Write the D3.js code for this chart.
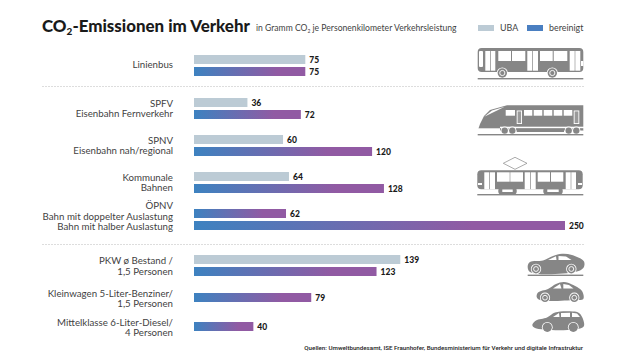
<!DOCTYPE html>
<html>
<head>
<meta charset="utf-8">
<script src="https://cdn.jsdelivr.net/npm/d3@7"></script>
<style>
  html, body { margin: 0; padding: 0; background: #fff; }
  svg { display: block; }
  text { font-family: "Lato", "Noto Sans", sans-serif; }
</style>
</head>
<body>
<svg id="chart" width="620" height="361"></svg>
<script>
// --- Data ---
const rowIds = ["bus", "spfv", "spnv", "kommunal", "opnv", "pkw", "klein", "mittel"];
const rowLabels = [
  ["Linienbus"],
  ["SPFV", "Eisenbahn Fernverkehr"],
  ["SPNV", "Eisenbahn nah/regional"],
  ["Kommunale", "Bahnen"],
  ["ÖPNV", "Bahn mit doppelter Auslastung", "Bahn mit halber Auslastung"],
  ["PKW ø Bestand /", "1,5 Personen"],
  ["Kleinwagen 5-Liter-Benziner/", "1,5 Personen"],
  ["Mittelklasse 6-Liter-Diesel/", "4 Personen"]
];
// first bar of each row, grey where the source is UBA
const firstValues = [75, 36, 60, 64, 62, 139, 79, 40];
const secondValues = [75, 72, 120, 128, 250, 123, null, null];
const firstIsUba = [true, true, true, true, false, true, false, false];
const legendLabels = ["UBA", "bereinigt"];

const W = 620, H = 361;
const svg = d3.select("#chart");

const BLUE = "#3d82c0", PURPLE = "#915aa3", UBA = "#bccbd5", TEXT = "#3f3f3f", ICON = "#868686";

// Scales
const x = d3.scaleLinear().domain([0, 250]).range([194, 565]);
const barH = 9;
const y = d3.scaleOrdinal()
  .domain(rowIds.flatMap(id => [id + "-0", id + "-1"]))
  .range([55, 67, 98, 110, 135, 147, 172, 184, 209, 221, 255, 267, 293, 305, 322, 334]);

const defs = svg.append("defs");
const grad = defs.append("linearGradient")
  .attr("id", "barGrad")
  .attr("x1", "0%").attr("x2", "100%");
grad.append("stop").attr("offset", "0%").attr("stop-color", BLUE);
grad.append("stop").attr("offset", "75%").attr("stop-color", PURPLE);
grad.append("stop").attr("offset", "100%").attr("stop-color", PURPLE);

// Title
const title = svg.append("text")
  .attr("x", 42).attr("y", 31.5)
  .attr("font-size", 16.9).attr("font-weight", 900).attr("fill", "#1a1a1a");
title.append("tspan").text("CO");
title.append("tspan").attr("font-size", 10).attr("dy", 3).text("2");
title.append("tspan").attr("dy", -3).text("-Emissionen im Verkehr");

const sub = svg.append("text")
  .attr("x", 256).attr("y", 31)
  .attr("font-size", 8.6).attr("fill", TEXT);
sub.append("tspan").text("in Gramm CO");
sub.append("tspan").attr("font-size", 5).attr("dy", 1.5).text("2");
sub.append("tspan").attr("dy", -1.5).text(" je Personenkilometer Verkehrsleistung");

// Legend
const legendX = [478, 527];
legendLabels.forEach((label, i) => {
  svg.append("rect")
    .attr("x", legendX[i]).attr("y", 25).attr("width", 16).attr("height", 6)
    .attr("fill", i === 0 ? UBA : "#4a7fc1");
  svg.append("text")
    .attr("x", legendX[i] + 22).attr("y", 31.3)
    .attr("font-size", 8.9).attr("fill", TEXT).text(label);
});

// Separators
[86.5, 244.5].forEach(yy => {
  svg.append("line")
    .attr("x1", 42).attr("x2", 584).attr("y1", yy).attr("y2", yy)
    .attr("stroke", "#dddddd").attr("stroke-dasharray", "2 1");
});

// Row labels
const labelCenters = [64, 108.5, 145.5, 182.5, 216, 266, 298.5, 327.5];
rowLabels.forEach((lines, i) => {
  const lh = 10.8;
  const top = labelCenters[i] - (lines.length - 1) * lh / 2;
  svg.append("g").selectAll("text")
    .data(lines)
    .enter()
    .append("text")
    .attr("x", 173)
    .attr("y", (d, j) => top + j * lh + 3.5)
    .attr("text-anchor", "end")
    .attr("font-size", 9.7)
    .attr("fill", TEXT)
    .text(d => d);
});

// Bars
const bars = [];
rowIds.forEach((id, i) => {
  bars.push({ key: id + "-0", value: firstValues[i], uba: firstIsUba[i] });
  if (secondValues[i] !== null) bars.push({ key: id + "-1", value: secondValues[i], uba: false });
});

svg.append("g").selectAll("rect")
  .data(bars)
  .enter()
  .append("rect")
  .attr("x", x(0))
  .attr("y", d => y(d.key))
  .attr("width", d => x(d.value) - x(0))
  .attr("height", barH)
  .attr("fill", d => d.uba ? UBA : "url(#barGrad)");

svg.append("g").selectAll("text")
  .data(bars)
  .enter()
  .append("text")
  .attr("x", d => x(d.value) + 4)
  .attr("y", d => y(d.key) + barH - 1)
  .attr("font-size", 8.5)
  .attr("font-weight", 900)
  .attr("fill", "#1a1a1a")
  .text(d => d.value);

// --- Icons ---
const icons = svg.append("g");

function box(x0, x1, y0, y1, fill, rx) {
  icons.append("rect")
    .attr("x", x0).attr("y", y0)
    .attr("width", x1 - x0).attr("height", y1 - y0)
    .attr("rx", rx || 0)
    .attr("fill", fill);
}
function ground(yy, x0) {
  box(x0, 583.3, yy - 0.7, yy + 0.7, ICON);
}
function wheel(cx, cy, r, ring) {
  icons.append("circle").attr("cx", cx).attr("cy", cy).attr("r", r + 0.8).attr("fill", "#fff");
  icons.append("circle").attr("cx", cx).attr("cy", cy).attr("r", r).attr("fill", ICON);
  if (ring) {
    icons.append("circle").attr("cx", cx).attr("cy", cy).attr("r", r * 0.55)
      .attr("fill", ICON).attr("stroke", "#fff").attr("stroke-width", 0.9);
  }
}
const straight = d3.line().curve(d3.curveLinearClosed);
const smooth = d3.line().curve(d3.curveCatmullRomClosed.alpha(0.5));
function shape(points, fill, gen) {
  icons.append("path").attr("d", (gen || straight)(points)).attr("fill", fill);
}

// Bus
box(477.7, 583.3, 48, 72, ICON, 4);
[[485.3, 490], [490.7, 495.3], [527.3, 532.3], [533, 538], [569.7, 574.7], [575.3, 580.3]]
  .forEach(d => box(d[0], d[1], 51, 70.7, "#fff"));
[[498.3, 511], [512, 525.3], [540, 552.7], [553.7, 567.3]]
  .forEach(d => box(d[0], d[1], 51, 61, "#fff"));
box(479, 483, 51, 67, "#fff", 1);
box(581, 583.3, 61, 66, "#fff");
wheel(502.3, 73, 4.7, true);
wheel(552.3, 73, 4.7, true);
ground(78.7, 477.7);

// Regional train
shape([[583.3, 105.3], [507, 105.3], [490, 110], [484, 116], [480, 124], [477.7, 130.7], [583.3, 130.7], [583.3, 126.5]], ICON);
box(500, 584, 126.7, 128.2, "#fff");
box(477, 500, 128.3, 132, "#fff");
shape([[484.3, 116.7], [492, 110.5], [504.7, 106.7], [494, 112]], "#fff");
box(505.7, 515, 110, 115.7, "#fff");
[[524, 532.3], [533.7, 542.3], [543.7, 552.3], [553.7, 562.3], [563.7, 572.3]]
  .forEach(d => box(d[0], d[1], 110, 115.7, "#fff"));
[[516.7, 522], [573.7, 579.3]].forEach(d => {
  box(d[0], d[1], 110.5, 124, "#fff");
  box(d[0] + 0.9, d[1] - 0.9, 111.4, 123.1, "#9a9a9a");
});
box(478, 583.3, 130.7, 132.6, "#fff");
box(516.7, 564, 128.8, 132, ICON);
[504.7, 512.3, 568.7, 576.3].forEach(cx => wheel(cx, 130.6, 3.2));
ground(134.7, 477.7);

// Tram
icons.append("path")
  .attr("d", straight([[503.3, 163.3], [515, 157.3], [527, 163.3], [515, 169.3]]))
  .attr("fill", "none").attr("stroke", ICON).attr("stroke-width", 0.7);
box(477.3, 582.7, 170.3, 189.3, ICON, 4);
[[484.3, 489.3], [490, 495], [524.7, 530], [530.7, 535.7], [565.7, 570.7], [571.3, 576]]
  .forEach(d => box(d[0], d[1], 172.3, 189.3, "#fff"));
[[497, 509.7], [510.3, 523], [537.7, 550], [551, 563.3]]
  .forEach(d => box(d[0], d[1], 172.3, 181.7, "#fff"));
box(478, 482, 183, 185, "#fff");
box(578, 582, 183, 185, "#fff");
[[498.3, 516.7], [543.3, 562.7]].forEach(d => {
  box(d[0], d[1], 187.5, 194.5, ICON, 3);
  box(d[0] + 4, d[1] - 4, 189.5, 192, "#fff");
});
ground(194.7, 477.3);

// Cars
shape([[527.7, 266], [530, 262], [543, 260.5], [553, 256], [562, 253.8], [572, 255], [584, 261.5], [583.3, 268], [575, 272], [530, 272]], ICON, smooth);
shape([[548, 260], [556, 256.2], [556.5, 260]], "#fff");
shape([[558.5, 256], [566, 256.6], [571.5, 260], [558.5, 260]], "#fff");
wheel(536, 269, 4.4, true);
wheel(571.3, 269, 4.4, true);
box(527.7, 583.3, 274.6, 276, ICON);

shape([[536.7, 297], [538, 292.5], [548, 289], [556, 284], [564, 282], [572, 284.5], [582, 291], [583.3, 299], [575, 300], [540, 300]], ICON, smooth);
shape([[553, 288.5], [560, 284], [561.5, 288.5]], "#fff");
shape([[563.3, 284], [569, 285], [573.5, 288.5], [563.3, 288.5]], "#fff");
wheel(545, 297.7, 4.3, true);
wheel(574.3, 297.7, 4.3, true);

shape([[532.3, 325], [536, 320.5], [547, 317.5], [555, 312.5], [570, 311.3], [579, 313], [583.3, 320], [583.3, 327], [535, 328]], ICON, smooth);
shape([[553, 317], [559, 313], [559.5, 317]], "#fff");
shape([[561, 313], [570, 312.8], [570, 317], [561, 317]], "#fff");
shape([[572, 312.8], [577, 313.5], [580, 317], [572, 317]], "#fff");
wheel(547.3, 327.3, 4.6);
wheel(573.3, 327.3, 4.6);

// Source
svg.append("text")
  .attr("x", 583).attr("y", 349.5)
  .attr("text-anchor", "end")
  .attr("font-size", 6.2)
  .style("font-family", '"Roboto", sans-serif')
  .attr("font-weight", 500)
  .attr("fill", "#222")
  .text("Quellen: Umweltbundesamt, ISE Fraunhofer, Bundesministerium für Verkehr und digitale Infrastruktur");
</script>
</body>
</html>
